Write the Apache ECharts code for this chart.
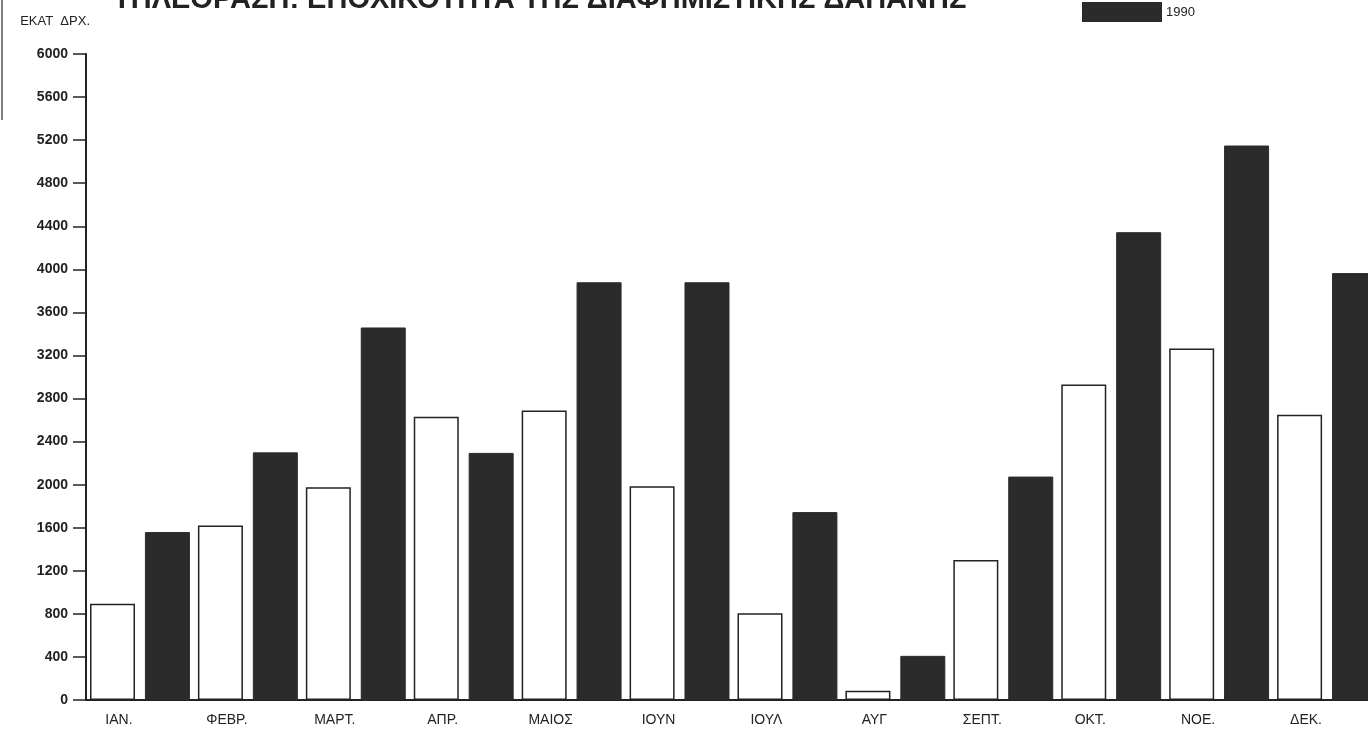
<!DOCTYPE html>
<html>
<head>
<meta charset="utf-8">
<title>ΤΗΛΕΟΡΑΣΗ: ΕΠΟΧΙΚΟΤΗΤΑ ΤΗΣ ΔΙΑΦΗΜΙΣΤΙΚΗΣ ΔΑΠΑΝΗΣ</title>
<script src="https://cdn.jsdelivr.net/npm/echarts@6/dist/echarts.min.js"></script>
<style>
  html, body { margin: 0; padding: 0; background: #fff; overflow: hidden; }
  /* the chart is slightly wider than the page, so the last bar is cut at the right edge */
  #chart { width: 1381px; height: 736px; }
</style>
</head>
<body>
<div id="chart"></div>
<script>
// Monthly TV advertising spend, million drachmas
const months = ['ΙΑΝ.', 'ΦΕΒΡ.', 'ΜΑΡΤ.', 'ΑΠΡ.', 'ΜΑΙΟΣ', 'ΙΟΥΝ', 'ΙΟΥΛ', 'ΑΥΓ', 'ΣΕΠΤ.', 'ΟΚΤ.', 'ΝΟΕ.', 'ΔΕΚ.'];
const spend1989 = [895, 1620, 1975, 2630, 2690, 1985, 805, 85, 1300, 2930, 3265, 2650];
const spend1990 = [1560, 2300, 3460, 2295, 3880, 3880, 1745, 410, 2075, 4345, 5150, 3965];
const yTicks = { min: 0, max: 6000, step: 400 };

const ink = '#222';
const font = "'Liberation Sans', Arial, sans-serif";

const chart = echarts.init(document.getElementById('chart'));
chart.setOption({
  backgroundColor: '#fff',
  animation: false,
  title: {
    text: 'ΤΗΛΕΟΡΑΣΗ: ΕΠΟΧΙΚΟΤΗΤΑ ΤΗΣ ΔΙΑΦΗΜΙΣΤΙΚΗΣ ΔΑΠΑΝΗΣ',
    left: 113,
    top: -15,
    padding: 0,
    textStyle: { fontFamily: font, fontWeight: 'bold', fontSize: 29, color: ink }
  },
  legend: {
    data: ['1990'],
    left: 1082,
    top: 2,
    padding: 0,
    itemWidth: 78,
    itemHeight: 18,
    itemGap: 10,
    icon: 'rect',
    textStyle: { fontFamily: font, fontSize: 13, color: ink }
  },
  grid: { left: 86, top: 54, right: 0, height: 646, containLabel: false },
  xAxis: {
    type: 'category',
    data: months,
    boundaryGap: true,
    axisLine: { show: true, lineStyle: { color: ink, width: 2 } },
    axisTick: { show: false },
    axisLabel: {
      margin: 13,
      fontFamily: font,
      fontSize: 14,
      color: ink,
      padding: [0, 42, 0, 0]
    }
  },
  yAxis: {
    type: 'value',
    min: yTicks.min,
    max: yTicks.max,
    interval: yTicks.step,
    name: 'ΕΚΑΤ  ΔΡΧ.',
    nameLocation: 'end',
    nameGap: 26,
    nameTextStyle: { fontFamily: font, fontSize: 13, color: ink, align: 'right', padding: [0, -4, 0, 0] },
    axisLine: { show: true, lineStyle: { color: ink, width: 2 } },
    axisTick: { show: true, inside: false, length: 13, lineStyle: { color: ink, width: 1.5 } },
    splitLine: { show: false },
    axisLabel: {
      margin: 18,
      fontFamily: font,
      fontSize: 14,
      fontWeight: 'bold',
      color: ink,
      padding: [0, 0, 10, 0],
      formatter: (v) => String(v)
    }
  },
  series: [
    {
      name: '1989',
      type: 'bar',
      data: spend1989,
      barWidth: 45,
      barGap: '22%',
      itemStyle: { color: '#fff', borderColor: ink, borderWidth: 1.5 }
    },
    {
      name: '1990',
      type: 'bar',
      data: spend1990,
      barWidth: 45,
      barGap: '22%',
      itemStyle: { color: '#2b2b2b', borderColor: '#2b2b2b', borderWidth: 1 }
    }
  ],
  graphic: [
    {
      type: 'line',
      shape: { x1: 2, y1: 0, x2: 2, y2: 120 },
      style: { stroke: '#555', lineWidth: 1.5 }
    }
  ]
});
</script>
</body>
</html>
